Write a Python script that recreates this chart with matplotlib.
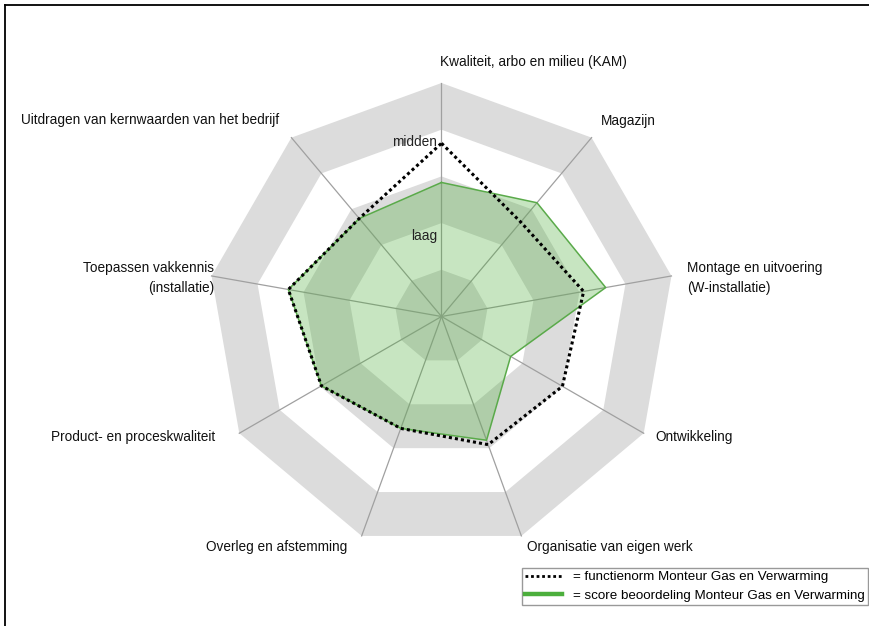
import numpy as np
import matplotlib
matplotlib.use("Agg")
import matplotlib.pyplot as plt
from matplotlib.lines import Line2D

plt.rcParams['font.family'] = ['Liberation Sans', 'DejaVu Sans']

categories = [
    "Kwaliteit, arbo en milieu (KAM)",
    "Magazijn",
    "Montage en uitvoering\n(W-installatie)",
    "Ontwikkeling",
    "Organisatie van eigen werk",
    "Overleg en afstemming",
    "Product- en proceskwaliteit",
    "Toepassen vakkennis\n(installatie)",
    "Uitdragen van kernwaarden van het bedrijf",
]
norm_values = [3.71, 2.64, 3.09, 2.99, 2.92, 2.55, 2.97, 3.33, 2.74]
score_values = [2.87, 3.18, 3.57, 1.71, 2.82, 2.55, 2.97, 3.33, 2.74]
tick_values = [2, 4]
tick_labels = ["laag", "midden"]
rmax = 5
legend_labels = ["= functienorm Monteur Gas en Verwarming",
                 "= score beoordeling Monteur Gas en Verwarming"]

W, H, DPI = 869, 626, 100
cx, cy, unit = 441.5, 316.5, 46.7
FS = 9.8

fig = plt.figure(figsize=(W / DPI, H / DPI), dpi=DPI)
ax = fig.add_axes([0, 0, 1, 1])
ax.set_xlim(-cx / unit, (W - cx) / unit)
ax.set_ylim(-(H - cy) / unit, cy / unit)
ax.axis('off')

n = len(categories)
ang = np.deg2rad(np.arange(n) * 360.0 / n)
sx, sy = np.sin(ang), np.cos(ang)

def poly(vals):
    v = np.asarray(vals, dtype=float)
    return np.append(v * sx, v[0] * sx[0]), np.append(v * sy, v[0] * sy[0])

# background bands
for r in range(rmax, 0, -1):
    px, py = poly([r] * n)
    ax.fill(px, py, color='#dcdcdc' if r % 2 == 1 else 'white', lw=0, zorder=1)

# spokes
for i in range(n):
    ax.plot([0, rmax * sx[i]], [0, rmax * sy[i]], color='#a0a0a0', lw=0.9, zorder=2)

# score fill
px, py = poly(score_values)
ax.fill(px, py, color=(72 / 255, 172 / 255, 52 / 255), alpha=0.3, lw=0, zorder=3)
ax.plot(px, py, color='#5aaa4a', lw=1.1, zorder=4)

# norm dotted
px, py = poly(norm_values)
ax.plot(px, py, color='black', lw=2.2, linestyle=(0, (1, 1)), zorder=5)

# tick labels
for tv, tl in zip(tick_values, tick_labels):
    ax.annotate(tl, xy=(0, tv), xytext=(-3.3, -4.0), textcoords='offset points',
                ha='right', va='top', fontsize=FS, color='#222222', zorder=6)

# category labels: (dx, dy) in px offsets from spoke end, ha
offs = [(-1, 21, 'left'), (9.5, 16.6, 'left'), (15.5, -2, 'left'), (12, -4, 'left'),
        (5.5, -11, 'left'), (-14.5, -11, 'right'), (-24, -4, 'right'),
        (2.5, -2, 'right'), (-12.4, 17.6, 'right')]
for i, lab in enumerate(categories):
    dx, dy, ha = offs[i]
    ax.annotate(lab, xy=(rmax * sx[i], rmax * sy[i]),
                xytext=(dx * 0.72, dy * 0.72), textcoords='offset points',
                ha=ha, va='center', multialignment=ha, fontsize=FS,
                linespacing=1.55, color='#111111', zorder=6)

# legend
handles = [Line2D([], [], color='black', lw=2.0, linestyle=(0, (1, 1))),
           Line2D([], [], color='#4caf3c', lw=3.2)]
leg = fig.legend(handles, legend_labels, loc='upper left',
                 bbox_to_anchor=(522 / W, 1 - 568 / H), borderaxespad=0,
                 fontsize=9.6, frameon=True, fancybox=False, framealpha=1,
                 edgecolor='#999999', handlelength=2.8, handletextpad=0.8,
                 labelspacing=0.45, borderpad=0.22)
leg.get_frame().set_linewidth(1.0)

# figure border (top and left)
fig.add_artist(Line2D([4.5 / W, 4.5 / W], [0, 1 - 4.5 / H], color='black', lw=1.3,
                      transform=fig.transFigure))
fig.add_artist(Line2D([4.5 / W, 1], [1 - 4.5 / H, 1 - 4.5 / H], color='black', lw=1.3,
                      transform=fig.transFigure))

fig.savefig('out.png', dpi=DPI)
